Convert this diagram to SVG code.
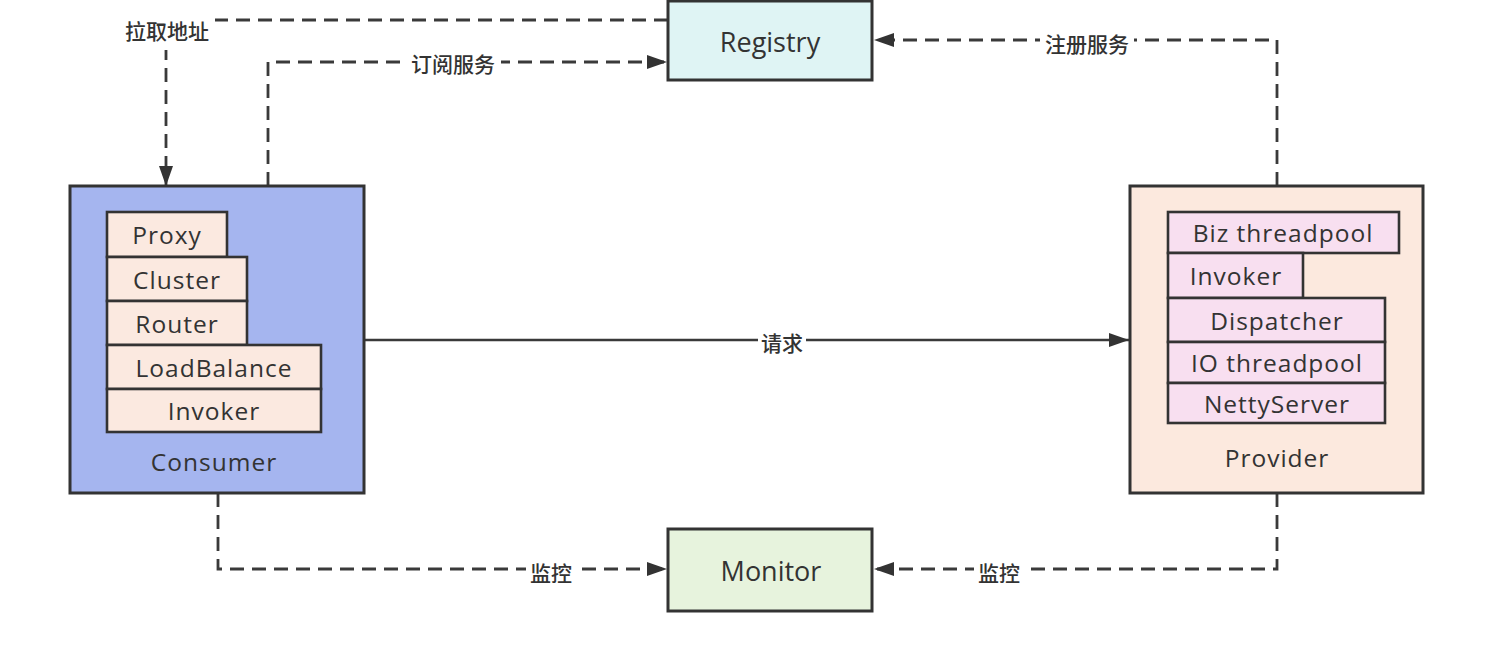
<svg xmlns="http://www.w3.org/2000/svg" width="1495" height="646" viewBox="0 0 1495 646">
<style>
.box{stroke:#333;stroke-width:3}
.inner{stroke:#333;stroke-width:2.6}
.t{font-family:"Open Sans","Liberation Sans",sans-serif;fill:#333;text-anchor:middle;dominant-baseline:central;font-weight:500}
.big{font-size:27px}
.mid{font-size:24.5px;letter-spacing:1px}
.lbl{font-family:"Noto Sans CJK SC","Noto Sans",sans-serif;font-size:21px;font-weight:500;fill:#333;text-anchor:middle;dominant-baseline:central}
.dash{fill:none;stroke:#3a3a3a;stroke-width:2.8;stroke-dasharray:14 8}
.solid{fill:none;stroke:#3a3a3a;stroke-width:2.6}
.bg{fill:#fff}
</style>
<defs>
<marker id="arr" viewBox="0 0 20 14" refX="20" refY="7" markerWidth="20" markerHeight="14" orient="auto" markerUnits="userSpaceOnUse">
<path d="M0,0 L20,7 L0,14 z" fill="#333"/>
</marker>
</defs>
<rect width="1495" height="646" fill="#fff"/>
<g id="connectors">
<path class="dash" d="M668,20 H166 V186" marker-end="url(#arr)"/>
<rect class="bg" x="119" y="12" width="96" height="38"/>
<text class="lbl" x="167" y="30">拉取地址</text>
<path class="dash" d="M268,186 V62 H667" marker-end="url(#arr)"/>
<rect class="bg" x="403" y="49" width="98" height="28"/>
<text class="lbl" x="453" y="63">订阅服务</text>
<path class="dash" d="M1277,186 V40 H874" marker-end="url(#arr)"/>
<rect class="bg" x="1040" y="28" width="94" height="30"/>
<text class="lbl" x="1087" y="43">注册服务</text>
<path class="solid" d="M364,340 H1129" marker-end="url(#arr)"/>
<rect class="bg" x="758" y="328" width="48" height="28"/>
<text class="lbl" x="782" y="342">请求</text>
<path class="dash" d="M218,493 V569 H667" marker-end="url(#arr)"/>
<rect class="bg" x="526" y="557" width="50" height="28"/>
<text class="lbl" x="551" y="572">监控</text>
<path class="dash" d="M1277,493 V569 H874" marker-end="url(#arr)"/>
<rect class="bg" x="974" y="557" width="50" height="28"/>
<text class="lbl" x="999" y="572">监控</text>
</g>
<g id="registry">
<rect class="box" x="668" y="1" width="204" height="79" fill="#dff4f4"/>
<text class="t big" x="770" y="41">Registry</text>
</g>
<g id="monitor">
<rect class="box" x="668" y="529" width="204" height="82" fill="#e7f3dd"/>
<text class="t big" x="771" y="570">Monitor</text>
</g>
<g id="consumer">
<rect class="box" x="70" y="186" width="294" height="307" fill="#a5b5ef"/>
<rect class="inner" x="107" y="212" width="120" height="45" fill="#fbe9e0"/>
<text class="t mid" x="167" y="234">Proxy</text>
<rect class="inner" x="107" y="257" width="140" height="44" fill="#fbe9e0"/>
<text class="t mid" x="177" y="279">Cluster</text>
<rect class="inner" x="107" y="301" width="140" height="44" fill="#fbe9e0"/>
<text class="t mid" x="177" y="323">Router</text>
<rect class="inner" x="107" y="345" width="214" height="44" fill="#fbe9e0"/>
<text class="t mid" x="214" y="367">LoadBalance</text>
<rect class="inner" x="107" y="389" width="214" height="43" fill="#fbe9e0"/>
<text class="t mid" x="214" y="410">Invoker</text>
<text class="t mid" x="214" y="461">Consumer</text>
</g>
<g id="provider">
<rect class="box" x="1130" y="186" width="293" height="307" fill="#fce9de"/>
<rect class="inner" x="1168" y="212" width="231" height="41" fill="#f8dff0"/>
<text class="t mid" x="1283" y="232">Biz threadpool</text>
<rect class="inner" x="1168" y="253" width="135" height="45" fill="#f8dff0"/>
<text class="t mid" x="1236" y="275">Invoker</text>
<rect class="inner" x="1168" y="298" width="217" height="44" fill="#f8dff0"/>
<text class="t mid" x="1277" y="320">Dispatcher</text>
<rect class="inner" x="1168" y="342" width="217" height="41" fill="#f8dff0"/>
<text class="t mid" x="1277" y="362">IO threadpool</text>
<rect class="inner" x="1168" y="383" width="217" height="40" fill="#f8dff0"/>
<text class="t mid" x="1277" y="403">NettyServer</text>
<text class="t mid" x="1277" y="457">Provider</text>
</g>
</svg>
